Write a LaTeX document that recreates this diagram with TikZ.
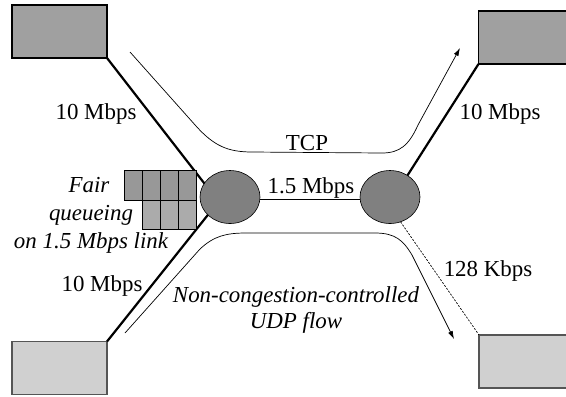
\documentclass[tikz,border=0pt]{standalone}
\usepackage{fontspec}
\setmainfont{Liberation Serif}
\newfontfamily\labelfont{Liberation Serif}
\usetikzlibrary{shapes.geometric,arrows.meta}
\definecolor{hostdark}{HTML}{A0A0A0}
\definecolor{hostlight}{HTML}{D0D0D0}
\definecolor{hostlightedge}{HTML}{555555}
\definecolor{routerfill}{HTML}{808080}
\definecolor{queuetop}{HTML}{989898}
\definecolor{queuebot}{HTML}{ABABAB}
\begin{document}
\begin{tikzpicture}[x=1bp,y=-1bp,
  font=\labelfont\fontsize{23}{27}\selectfont,
  hostbox/.style={draw=black, line width=1.2bp, fill=hostdark, inner sep=0pt, outer sep=0pt,
                  minimum width=95bp, minimum height=53bp},
  hostboxlight/.style={hostbox, draw=hostlightedge, fill=hostlight},
  router/.style={ellipse, draw=black, line width=0.6bp, fill=routerfill, inner sep=0pt,
                 outer sep=0pt, minimum width=60bp, minimum height=53bp},
  link/.style={line width=2.2bp},
  slowlink/.style={line width=0.7bp, dash pattern=on 2bp off 1.5bp},
  midlink/.style={line width=0.8bp},
  flow/.style={line width=0.7bp},
  flowarrow/.style={flow, -{Latex[length=8bp,width=5bp]}},
  lbl/.style={inner sep=0pt, anchor=base},
  itlbl/.style={lbl, font=\labelfont\itshape\fontsize{23}{27}\selectfont},
  qcell/.style={draw=black, line width=0.7bp}
]
\clip (0,0) rectangle (566,396);

% hosts
\node[hostbox]      (hTL) at (59.5,31.5) {};
\node[hostbox]      (hTR) at (526,37.5) {};
\node[hostboxlight] (hBL) at (59.5,368) {};
\node[hostboxlight] (hBR) at (526.5,361.5) {};

% routers
\node[router] (rL) at (230,197) {};
\node[router] (rR) at (390,197) {};

% links
\draw[link] (hTL.south east) -- (rL.152);
\draw[link] (hBL.north east) -- (rL.219);
\draw[link] (hTR.south west) -- (rR.51);
\draw[slowlink] (rR.293) -- (hBR.north west);
\draw[midlink] ([yshift=-2bp]rL.east) -- ([yshift=-2bp]rR.west);

% fair-queueing buffers
\foreach \x in {124,142,160,178}
  \draw[qcell, fill=queuetop] (\x,170) rectangle ++(18,30);
\foreach \x in {142,160,178}
  \draw[qcell, fill=queuebot] (\x,200) rectangle ++(18,29);

% flows
\coordinate (tcpS) at (130,52);
\coordinate (tcpE) at (460,48);
\coordinate (udpS) at (125,333);
\coordinate (udpE) at (454,339);
\draw[flowarrow] (tcpS) -- (196,126)
  .. controls (214,146) and (228,152) .. (252,152)
  -- (382,153)
  .. controls (400,153) and (409,145) .. (418,125)
  -- (tcpE);
\draw[flowarrow] (udpS) -- (200,249)
  .. controls (214,236) and (226,233) .. (246,233)
  -- (375,233)
  .. controls (395,233) and (403,240) .. (412,255)
  -- (udpE);

% labels
\node[lbl] (bwTL) at (96,119.5) {10 Mbps};
\node[lbl] (bwTR) at (500,119.5) {10 Mbps};
\node[lbl] (bwBL) at (102,291) {10 Mbps};
\node[lbl] (bwBR) at (488,276) {128 Kbps};
\node[lbl] (bwM)  at (311,193) {1.5 Mbps};
\node[lbl] (tcp)  at (307,150) {TCP};
\node[itlbl] (fq1) at (89,192) {Fair};
\node[itlbl] (fq2) at (91,220) {queueing};
\node[itlbl] (fq3) at (91,248) {on 1.5 Mbps link};
\node[itlbl] (udp1) at (296,302) {Non-congestion-controlled};
\node[itlbl] (udp2) at (296,328) {UDP flow};
\end{tikzpicture}
\end{document}
